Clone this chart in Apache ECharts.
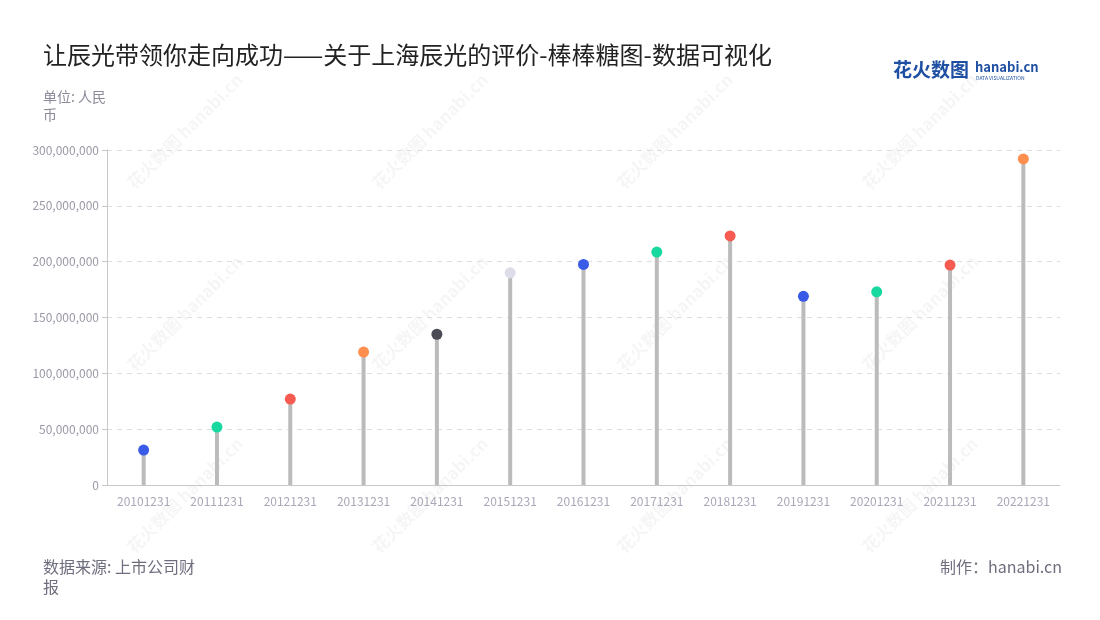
<!DOCTYPE html>
<html><head><meta charset="utf-8">
<script src="https://cdn.jsdelivr.net/npm/echarts@6/dist/echarts.min.js"></script>
<style>html,body{margin:0;padding:0;background:#fff}#c{width:1100px;height:620px}</style>
</head><body><div id="c"></div>
<script>
var categories = ['20101231','20111231','20121231','20131231','20141231','20151231','20161231','20171231','20181231','20191231','20201231','20211231','20221231'];
var values = [31300000, 51900000, 77000000, 119000000, 135000000, 190000000, 197500000, 208600000, 223000000, 169000000, 173000000, 197000000, 292000000];
var dotColors = ['#3a5ae8','#17d9a0','#f65a50','#ff8f4f','#4b4b55','#dcdde8','#3a5ae8','#17d9a0','#f65a50','#3a5ae8','#17d9a0','#f65a50','#ff8f4f'];
var yTicks = [0, 50000000, 100000000, 150000000, 200000000, 250000000, 300000000];

var FONT = '"Noto Sans CJK SC","Noto Sans",sans-serif';
var chart = echarts.init(document.getElementById('c'), null, {renderer:'canvas'});

var wm = [];
[130, 375, 620, 865].forEach(function(x){ [186, 368, 550].forEach(function(y){
  wm.push({type:'text', x: x, y: y, rotation: Math.PI/4, z: 0, silent:true,
    style:{text:'花火数图 hanabi.cn', fill:'rgba(0,0,0,0.04)', font:'bold 17px ' + FONT, textVerticalAlign:'middle'}});
});});

var option = {
  backgroundColor: '#fff',
  textStyle: {fontFamily: FONT},
  title: [
    {text: '让辰光带领你走向成功——关于上海辰光的评价-棒棒糖图-数据可视化', left: 38, top: 38,
     textStyle: {fontSize: 24, fontWeight: 'normal', color: '#222', fontFamily: FONT}},
    {text: '单位: 人民币', left: 38, top: 83,
     textStyle: {fontSize: 14, fontWeight: 'normal', color: '#8a8a99', width: 70, overflow: 'break', lineHeight: 18, fontFamily: FONT}},
    {text: '数据来源: 上市公司财报', left: 38, top: 552,
     textStyle: {fontSize: 16, fontWeight: 'normal', color: '#6e6e7e', width: 165, overflow: 'break', lineHeight: 20, fontFamily: FONT}},
    {text: '制作：hanabi.cn', right: 33, top: 554,
     textStyle: {fontSize: 16, fontWeight: 'normal', color: '#6e6e7e', fontFamily: FONT}}
  ],
  graphic: wm.concat([
    {type:'text', left: 893, top: 60, z: 10, style:{text:'花火数图', fill:'#1f4fa3', font:'bold 19px ' + FONT}},
    {type:'text', left: 975, top: 61, z: 10, style:{text:'hanabi.cn', fill:'#1f4fa3', font:'bold 13px ' + FONT}},
    {type:'text', left: 976, top: 76, z: 10, style:{text:'DATA VISUALIZATION', fill:'#1f4fa3', font:'5px ' + FONT}}
  ]),
  grid: {left: 107, right: 40, top: 150, bottom: 135, containLabel: false},
  xAxis: {
    type: 'category', data: categories,
    axisLine: {lineStyle: {color: '#c8c8c8'}},
    axisTick: {alignWithLabel: true, lineStyle: {color: '#c8c8c8'}},
    axisLabel: {color: '#a8a8b8', fontSize: 12, margin: 10, interval: 0}
  },
  yAxis: {
    type: 'value', min: 0, max: 300000000, interval: 50000000,
    axisLine: {show: true, lineStyle: {color: '#c8c8c8'}},
    axisTick: {show: true, lineStyle: {color: '#c8c8c8'}},
    axisLabel: {color: '#9a9aa6', fontSize: 12, formatter: function(v){ return v.toLocaleString('en-US'); }},
    splitLine: {lineStyle: {type: [5, 5], color: '#dedede'}}
  },
  series: [
    {type: 'bar', data: values, barWidth: 4, itemStyle: {color: '#bbbbbb'}, silent: true, z: 2},
    {type: 'scatter', data: values.map(function(v, i){ return {value: v, itemStyle: {color: dotColors[i], opacity: 1}}; }),
     symbolSize: 11, z: 3}
  ]
};
chart.setOption(option);
</script>
</body></html>
